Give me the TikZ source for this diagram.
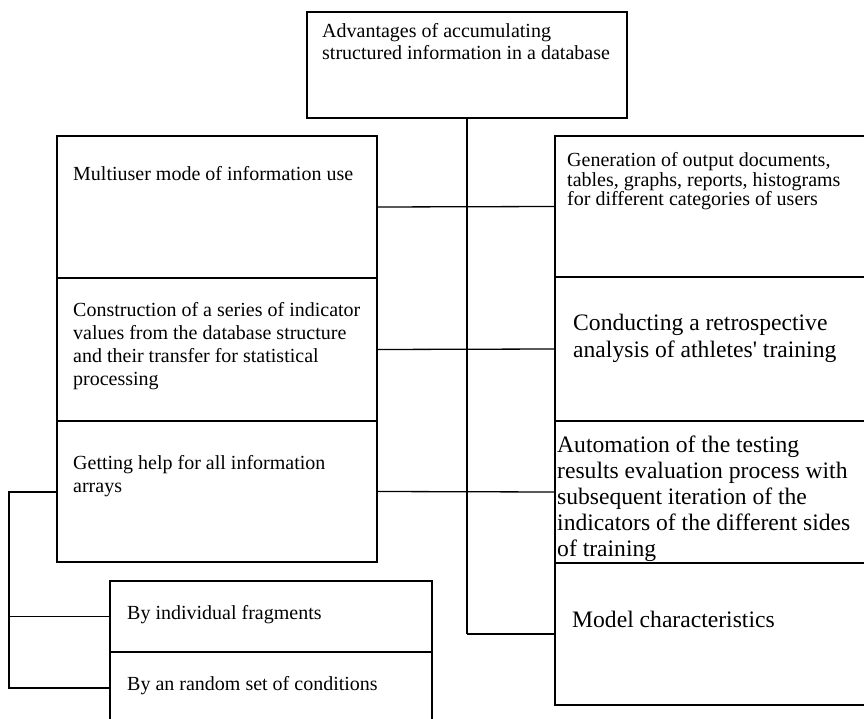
\documentclass[tikz,border=0pt]{standalone}
\usepackage{fontspec}
\setmainfont{Liberation Serif}[Ligatures=TeXOff]
\newcommand{\mylines}[1]{\begin{tabular}[t]{@{}l@{}}#1\end{tabular}}
\begin{document}
\begin{tikzpicture}[x=1pt,y=-1pt,
  box/.style={draw, line width=1.3pt, inner sep=0pt, outer sep=0pt, anchor=north west},
  link/.style={line width=1.3pt},
  trunk/.style={line width=2pt},
  small/.style={anchor=base west, inner sep=0pt, font=\fontsize{20}{22}\selectfont},
  smallb/.style={anchor=base west, inner sep=0pt, font=\fontsize{20}{23}\selectfont},
  smallc/.style={anchor=base west, inner sep=0pt, font=\fontsize{20}{19}\selectfont},
  large/.style={anchor=base west, inner sep=0pt, font=\fontsize{23.6}{26}\selectfont},
  largeb/.style={anchor=base west, inner sep=0pt, font=\fontsize{23.6}{27}\selectfont}]
\clip (0,0) rectangle (864,719);
\fill[white] (0,0) rectangle (864,719);
% texts
\node[small] (tTop) at (322,38) {\mylines{Advantages of accumulating\\structured information in a database}};
\node[small] (tMu) at (73,181) {Multiuser mode of information use};
\node[smallb] (tCon) at (73,316) {\mylines{Construction of a series of indicator\\values from the database structure\\and their transfer for statistical\\processing}};
\node[smallb] (tHelp) at (73,469) {\mylines{Getting help for all information\\arrays}};
\node[small] (tFrag) at (127,619) {By individual fragments};
\node[small] (tRnd) at (127,690) {By an random set of conditions};
\node[smallc] (tGen) at (567,166.5) {\mylines{Generation of output documents,\\tables, graphs, reports, histograms\\for different categories of users}};
\node[largeb] (tCond) at (573,330) {\mylines{Conducting a retrospective\\analysis of athletes' training}};
\begin{scope}
\clip (555,421) rectangle (870,563);
\node[large] (tAuto) at (557,452) {\mylines{Automation of the testing\\results evaluation process with\\subsequent iteration of the\\indicators of the different sides\\of training}};
\end{scope}
\node[large] (tMod) at (572,627) {Model characteristics};
% boxes
\node[box, minimum width=320pt, minimum height=106pt] (top) at (307,12) {};
\node[box, minimum width=320pt, minimum height=142pt] (mu) at (57,136) {};
\node[box, minimum width=320pt, minimum height=143pt] (con) at (57,278) {};
\node[box, minimum width=320pt, minimum height=141pt] (help) at (57,421) {};
\node[box, minimum width=322pt, minimum height=71pt] (frag) at (110,581) {};
\node[box, minimum width=322pt, minimum height=72pt] (rnd) at (110,652) {};
\node[box, minimum width=315pt, minimum height=141pt] (gen) at (555,136) {};
\node[box, minimum width=315pt, minimum height=144pt] (cond) at (555,277) {};
\node[box, minimum width=315pt, minimum height=142pt] (auto) at (555,421) {};
\node[box, minimum width=315pt, minimum height=142pt] (model) at (555,563) {};
% connectors
\coordinate (bx) at (9,0);
\draw[trunk] (top.south) -- (top.south |- model.west);
\draw[link] (top.south |- model.west) -- (model.west);
\draw[link] (mu.east) -- (gen.west);
\draw[link] (con.east) -- (cond.west);
\draw[link] (help.east) -- (auto.west);
\draw[trunk] (help.west) -- (help.west -| bx) -- (bx |- frag.west);
\draw[link] (bx |- frag.west) -- (frag.west);
\draw[link] (bx |- frag.west) -- (bx |- rnd.west) -- (rnd.west);
\end{tikzpicture}
\end{document}
